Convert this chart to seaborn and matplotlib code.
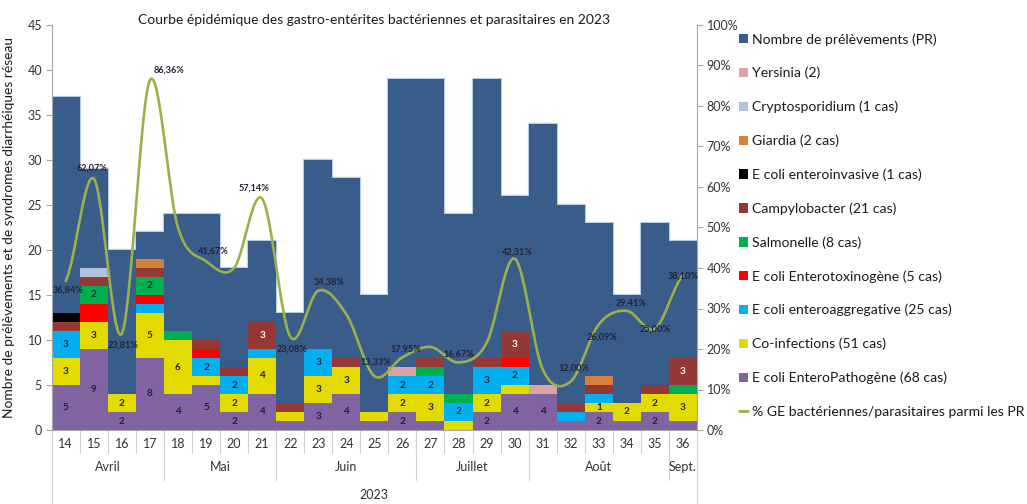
import numpy as np
import matplotlib
matplotlib.use("Agg")
import matplotlib.pyplot as plt
from matplotlib.patches import Patch
from matplotlib.lines import Line2D
from matplotlib.ticker import FuncFormatter, MultipleLocator
import seaborn as sns

# ---------------- data ----------------
weeks = [14, 15, 16, 17, 18, 19, 20, 21, 22, 23, 24, 25, 26, 27, 28, 29, 30, 31, 32, 33, 34, 35, 36]
months = ["Avril", "Mai", "Juin", "Juillet", "Août", "Sept."]
month_weeks = [4, 4, 5, 4, 5, 1]
year_label = "2023"

prelevements = [37, 29, 20, 22, 24, 24, 18, 21, 13, 30, 28, 15, 39, 39, 24, 39, 26, 34, 25, 23, 15, 23, 21]
epec =        [5, 9, 2, 8, 4, 5, 2, 4, 1, 3, 4, 1, 2, 1, 0, 2, 4, 4, 1, 2, 1, 2, 1]
coinf =       [3, 3, 2, 5, 6, 1, 2, 4, 1, 3, 3, 1, 2, 3, 1, 2, 1, 0, 0, 1, 2, 2, 3]
eaec =        [3, 0, 0, 1, 0, 2, 2, 1, 0, 3, 0, 0, 2, 2, 2, 3, 2, 0, 1, 1, 0, 0, 0]
etec =        [0, 2, 0, 1, 0, 1, 0, 0, 0, 0, 0, 0, 0, 0, 0, 0, 1, 0, 0, 0, 0, 0, 0]
salmonelle =  [0, 2, 0, 2, 1, 0, 0, 0, 0, 0, 0, 0, 0, 1, 1, 0, 0, 0, 0, 0, 0, 0, 1]
campylo =     [1, 1, 0, 1, 0, 1, 1, 3, 1, 0, 1, 0, 0, 1, 0, 1, 3, 0, 1, 1, 0, 1, 3]
eiec =        [1, 0, 0, 0, 0, 0, 0, 0, 0, 0, 0, 0, 0, 0, 0, 0, 0, 0, 0, 0, 0, 0, 0]
giardia =     [0, 0, 0, 1, 0, 0, 0, 0, 0, 0, 0, 0, 0, 0, 0, 0, 0, 0, 0, 1, 0, 0, 0]
crypto =      [0, 1, 0, 0, 0, 0, 0, 0, 0, 0, 0, 0, 0, 0, 0, 0, 0, 0, 0, 0, 0, 0, 0]
yersinia =    [0, 0, 0, 0, 0, 0, 0, 0, 0, 0, 0, 0, 1, 0, 0, 0, 0, 1, 0, 0, 0, 0, 0]

pct_ge = [36.84, 62.07, 23.81, 86.36, 50.00, 41.67, 40.00, 57.14, 23.08, 34.38, 28.57, 13.33,
          17.95, 20.51, 16.67, 21.50, 42.31, 15.00, 12.00, 26.09, 29.41, 25.00, 38.10]
pct_shown = [1, 1, 1, 1, 0, 1, 0, 1, 1, 1, 0, 1, 1, 0, 1, 0, 1, 0, 1, 1, 1, 1, 1]

label_pr = "Nombre de prélèvements (PR)"
series_labels = ["E coli EnteroPathogène (68 cas)", "Co-infections (51 cas)",
                 "E coli enteroaggregative (25 cas)", "E coli Enterotoxinogène (5 cas)",
                 "Salmonelle (8 cas)", "Campylobacter (21 cas)", "E coli enteroinvasive (1 cas)",
                 "Giardia (2 cas)", "Cryptosporidium (1 cas)", "Yersinia (2)"]
label_line = "% GE bactériennes/parasitaires parmi les PR"
title = "Courbe épidémique des gastro-entérites bactériennes et parasitaires en 2023"
ylabel = "Nombre de prélèvements et de syndromes diarrhéiques réseau"

# ---------------- style ----------------
pr_color = "#385D8A"
colors = ["#8064A2", "#E3DA00", "#00B0F0", "#FF0000", "#00B050", "#953735",
          "#000000", "#D5803B", "#B3C0DE", "#DBA5A8"]
line_color = "#9BAF4B"
grey = "#A6A6A6"
txt = "#1A1A1A"

# pixel offsets (dx, dy up) of the % labels relative to the points
pct_offsets = {14: (2, -9), 15: (-2, 10), 16: (1, -12), 17: (19, 10), 19: (7, 10), 21: (-8, 10),
               22: (2, -13), 23: (11, 9), 25: (1, 14), 26: (3, 8), 28: (0, 8), 30: (3, 7),
               32: (3, 13), 33: (3, -13), 34: (4, 8), 35: (0, 0), 36: (0, 0)}

sns.set_theme(style="white")
plt.rcParams["font.family"] = ["Lato", "DejaVu Sans"]

W, H = 1027, 504
fig = plt.figure(figsize=(W / 100, H / 100), dpi=100)
x0, x1, ybot, ytop = 51.7, 697.0, 430.0, 25.0
ax = fig.add_axes([x0 / W, 1 - ybot / H, (x1 - x0) / W, (ybot - ytop) / H])

wk_str = [str(w) for w in weeks]
order = wk_str

# total PR bars: outline pass, then fill pass (only the outer silhouette keeps a light border)
sns.barplot(x=wk_str, y=prelevements, order=order, color=pr_color, saturation=1, width=1,
            edgecolor="#B9CDE5", linewidth=1.6, errorbar=None, ax=ax)
sns.barplot(x=wk_str, y=prelevements, order=order, color=pr_color, saturation=1, width=1,
            linewidth=0, errorbar=None, ax=ax)

# stacked categories (drawn as cumulative bars, top layer first)
layers = [epec, coinf, eaec, etec, salmonelle, campylo, eiec, giardia, crypto, yersinia]
cum = np.cumsum(np.array(layers, dtype=float), axis=0)
for k in range(len(layers) - 1, -1, -1):
    sns.barplot(x=wk_str, y=cum[k], order=order, color=colors[k], saturation=1, width=1,
                linewidth=0, errorbar=None, ax=ax)

# values inside segments
def show_value(k, i, v):
    if v <= 0:
        return False
    if k in (0, 2, 4):
        return v >= 2
    if k == 1:
        return v >= 2 or weeks[i] == 33
    if k == 5:
        return v >= 3
    return False

for k, layer in enumerate(layers):
    base = cum[k - 1] if k > 0 else np.zeros(len(weeks))
    for i, v in enumerate(layer):
        if show_value(k, i, v):
            ax.text(i, base[i] + v / 2, str(v), ha="center", va="center", fontsize=7.2,
                    fontweight="bold", color="white" if k == 5 else "#222233")

ax.set_xlim(-0.5, len(weeks) - 0.5)
ax.set_ylim(0, 45)
ax.yaxis.set_major_locator(MultipleLocator(5))
ax.set_xlabel("")
ax.set_ylabel(ylabel, fontsize=9.9, color=txt)
ax.yaxis.set_label_coords(-(x0 - 15) / (x1 - x0), 0.5)
ax.tick_params(axis="y", labelsize=9, colors="#333333", length=4, width=0.8, color=grey, pad=3)
ax.tick_params(axis="x", length=0, labelsize=9, colors="#333333", pad=6)
for s in ["top", "right"]:
    ax.spines[s].set_visible(False)
for s in ["left", "bottom"]:
    ax.spines[s].set_color(grey)
    ax.spines[s].set_linewidth(0.8)

# multi-level category axis
tr = ax.get_xaxis_transform()
ah = ybot - ytop
for i in range(len(weeks) - 1):
    ax.plot([i + 0.5, i + 0.5], [0, -23 / ah], transform=tr, color="#D0D0D0", lw=0.8, clip_on=False)
b = -0.5
bounds = []
for n in month_weeks:
    bounds.append((b, b + n))
    b += n
for (a, c), m in zip(bounds, months):
    ax.text((a + c) / 2, -37 / ah, m, transform=tr, ha="center", va="center", fontsize=9, color="#333333")
for (a, c) in bounds[:-1]:
    ax.plot([c, c], [0, -50 / ah], transform=tr, color="#D0D0D0", lw=0.8, clip_on=False)
for xe in (-0.5, len(weeks) - 0.5):
    ax.plot([xe, xe], [0, -(H - ybot) / ah], transform=tr, color="#D0D0D0", lw=0.8, clip_on=False)
ax.text((len(weeks) - 1) / 2, -65 / ah, year_label, transform=tr, ha="center", va="center",
        fontsize=9, color="#333333")

# secondary axis: smoothed percentage line (Excel-like smoothing)
ax2 = ax.twinx()
ax2.set_ylim(0, 100)
ax2.yaxis.set_major_locator(MultipleLocator(10))
ax2.yaxis.set_major_formatter(FuncFormatter(lambda v, p: f"{v:.0f}%"))
ax2.tick_params(axis="y", labelsize=9, colors="#333333", length=4, width=0.8, color=grey, pad=3)
for s in ["top", "left", "bottom"]:
    ax2.spines[s].set_visible(False)
ax2.spines["right"].set_color(grey)
ax2.spines["right"].set_linewidth(0.8)
ax2.grid(False)
ax.grid(False)

def catmull_rom(ys, n=30):
    P = np.concatenate([[ys[0]], ys, [ys[-1]]])
    xs_out, ys_out = [], []
    for i in range(len(ys) - 1):
        p0, p1, p2, p3 = P[i], P[i + 1], P[i + 2], P[i + 3]
        t = np.linspace(0, 1, n, endpoint=False)
        y = 0.5 * (2 * p1 + (-p0 + p2) * t + (2 * p0 - 5 * p1 + 4 * p2 - p3) * t ** 2
                   + (-p0 + 3 * p1 - 3 * p2 + p3) * t ** 3)
        xs_out.append(i + t)
        ys_out.append(y)
    xs_out.append([len(ys) - 1])
    ys_out.append([ys[-1]])
    return np.concatenate(xs_out), np.concatenate(ys_out)

sx, sy = catmull_rom(np.array(pct_ge, dtype=float))
ax2.plot(sx, sy, color=line_color, lw=1.9, solid_capstyle="round")

for i, (v, s) in enumerate(zip(pct_ge, pct_shown)):
    if s:
        dx, dy = pct_offsets.get(weeks[i], (0, 8))
        ax2.annotate(f"{v:.2f}%".replace(".", ","), (i, v), xytext=(dx * 0.72, dy * 0.72),
                     textcoords="offset points", ha="center", va="center", fontsize=6.6,
                     fontweight="bold", color="#222233")

# title
fig.text((x0 + x1) / 2 / W, 1 - 20 / H, title, ha="center", va="center", fontsize=10.0, color=txt)

# legend
handles = [Patch(facecolor=pr_color, edgecolor="none")]
labels = [label_pr]
for k in range(len(layers) - 1, -1, -1):
    handles.append(Patch(facecolor=colors[k], edgecolor="none"))
    labels.append(series_labels[k])
handles.append(Line2D([0], [0], color=line_color, lw=2))
labels.append(label_line)
fig.legend(handles, labels, loc="upper left", bbox_to_anchor=(739 / W, 1 - 33 / H), frameon=False,
           fontsize=10.1, handlelength=0.65, handleheight=0.65, handletextpad=0.25,
           labelspacing=1.52, borderaxespad=0, borderpad=0, labelcolor=txt)

fig.savefig("out.png", dpi=100)
